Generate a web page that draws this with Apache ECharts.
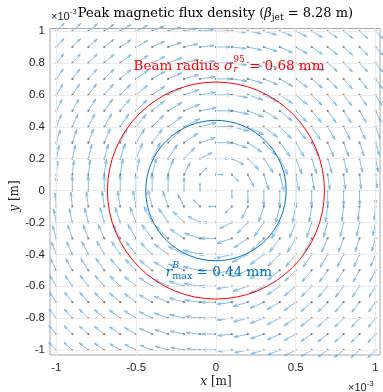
<!DOCTYPE html>
<html><head><meta charset="utf-8">
<script src="https://cdn.jsdelivr.net/npm/echarts@6/dist/echarts.min.js"></script>
<style>html,body{margin:0;padding:0;background:#fff}#c{width:383px;height:392px}</style>
</head><body><div id="c"></div>
<script>
// ---- data (units of 1e-3 m) ----
const gridX = [-1.0,-0.9,-0.8,-0.7,-0.6,-0.5,-0.4,-0.3,-0.2,-0.1,0,0.1,0.2,0.3,0.4,0.5,0.6,0.7,0.8,0.9,1.0];
const gridY = [-1.0,-0.9,-0.8,-0.7,-0.6,-0.5,-0.4,-0.3,-0.2,-0.1,0,0.1,0.2,0.3,0.4,0.5,0.6,0.7,0.8,0.9,1.0];
const xTicks = [-1,-0.5,0,0.5,1];
const yTicks = [-1,-0.8,-0.6,-0.4,-0.2,0,0.2,0.4,0.6,0.8,1];
const beamRadius95 = 0.68;   // sigma_r^95 [mm]
const rMaxB = 0.44;          // r_max^B [mm]
const circleRadii = [beamRadius95, rMaxB];
const circleColors = ['#ff0000', '#0072bd'];
// arrow length (axis units) vs distance from beam axis
const profileR   = [0, 0.1, 0.2, 0.3, 0.44, 0.6, 0.8, 1.0, 1.2, 1.42];
const profileLen = [0, 0.045, 0.08, 0.10, 0.112, 0.10, 0.093, 0.085, 0.075, 0.068];

function arrowLen(r) {
  for (let i = 1; i < profileR.length; i++) {
    if (r <= profileR[i]) {
      const t = (r - profileR[i - 1]) / (profileR[i] - profileR[i - 1]);
      return profileLen[i - 1] + t * (profileLen[i] - profileLen[i - 1]);
    }
  }
  return profileLen[profileLen.length - 1];
}
const arrows = [];
const dots = [];
gridX.forEach(x => gridY.forEach(y => {
  const r = Math.hypot(x, y);
  const m = arrowLen(r);
  // azimuthal, clockwise
  const u = r === 0 ? 0 : m * y / r;
  const v = r === 0 ? 0 : -m * x / r;
  arrows.push([x, y, u, v]);
  dots.push([x, y]);
}));

const X_MIN = -1.04, X_MAX = 1.028, Y_MIN = -1.031, Y_MAX = 1.016;
const SERIF = '"DejaVu Serif", "Liberation Serif", serif';
const SANS = '"Liberation Sans", Arial, Helvetica, sans-serif';
const ARROW = '#76b5e3';

// ---- text layout helper ----
const mctx = document.createElement('canvas').getContext('2d');
function fontStr(f) { return (f.italic ? 'italic ' : '') + f.size + 'px ' + (f.family || SERIF); }
function tw(t, f) { mctx.font = fontStr(f); return mctx.measureText(t).width; }
function textLine(frags, x, y, color, align) {
  let widths = frags.map(f => f.stack ? Math.max(...f.stack.map(s => tw(s.t, s))) : tw(f.t, f));
  const total = widths.reduce((a, b) => a + b, 0);
  let cx = align === 'center' ? x - total / 2 : x;
  const els = [];
  frags.forEach((f, i) => {
    const list = f.stack ? f.stack : [f];
    list.forEach(s => {
      els.push({ type: 'text', x: cx, y: y + (s.dy || 0), silent: true, z: 100,
        style: { text: s.t, font: fontStr(s), fill: color, align: 'left', verticalAlign: 'middle' } });
    });
    cx += widths[i];
  });
  return els;
}

const graphics = [].concat(
  textLine([{t: '\u00d710', size: 11, family: SANS}, {t: '-3', size: 8, family: SANS, dy: -4.5}], 51, 16.5, '#262626', 'left'),
  textLine([{t: 'Peak magnetic flux density (', size: 13}, {t: '\u03b2', size: 13, italic: true},
            {t: 'jet', size: 9, dy: 3.5}, {t: ' = 8.28 m)', size: 13}], 215.5, 14, '#000', 'center'),
  textLine([{t: 'Beam radius ', size: 13.5}, {t: '\u03c3', size: 13.5, italic: true},
            {stack: [{t: '95', size: 9, dy: -6}, {t: 'r', size: 9.5, italic: true, dy: 4}]},
            {t: ' = 0.68 mm', size: 13.5}], 229, 66, '#ff0000', 'center'),
  textLine([{t: 'r', size: 13.5, italic: true},
            {stack: [{t: 'B', size: 9.5, italic: true, dy: -6}, {t: 'max', size: 9.5, dy: 4.5}]},
            {t: ' = 0.44 mm', size: 13.5}], 219, 272, '#0072bd', 'center'),
  textLine([{t: 'x', size: 12, italic: true}, {t: ' [m]', size: 12}], 216, 382, '#262626', 'center'),
  textLine([{t: '\u00d710', size: 11, family: SANS}, {t: '-3', size: 8, family: SANS, dy: -4.5}], 348, 388, '#262626', 'left')
);
graphics.push({ type: 'group', x: 15, y: 196, rotation: Math.PI / 2, silent: true,
  children: textLine([{t: 'y', size: 12, italic: true}, {t: ' [m]', size: 12}], 0, 0, '#262626', 'center') });

const chart = echarts.init(document.getElementById('c'), null, { renderer: 'canvas' });
const axisCommon = {
  type: 'value', axisLine: { show: false }, splitLine: { show: false },
  axisTick: { show: true, inside: true, length: 3, lineStyle: { color: '#9a9a9a' } }
};
chart.setOption({
  animation: false,
  backgroundColor: '#fff',
  grid: { left: 50, right: 3, top: 28.5, bottom: 37, show: true, borderColor: '#a8a8a8', borderWidth: 1, backgroundColor: 'transparent' },
  xAxis: [
    Object.assign({}, axisCommon, { min: X_MIN, max: X_MAX, position: 'bottom',
      axisTick: Object.assign({}, axisCommon.axisTick, { customValues: xTicks }),
      axisLabel: { customValues: xTicks, formatter: v => String(Math.round(v * 10) / 10), fontSize: 11.5, fontFamily: SANS, color: '#262626', margin: 7 } }),
    Object.assign({}, axisCommon, { min: X_MIN, max: X_MAX, position: 'top',
      axisTick: Object.assign({}, axisCommon.axisTick, { customValues: xTicks }),
      axisLabel: { show: false } })
  ],
  yAxis: [
    Object.assign({}, axisCommon, { min: Y_MIN, max: Y_MAX, position: 'left',
      axisTick: Object.assign({}, axisCommon.axisTick, { customValues: yTicks }),
      axisLabel: { customValues: yTicks, formatter: v => String(Math.round(v * 10) / 10), fontSize: 11.5, fontFamily: SANS, color: '#262626', margin: 5 } }),
    Object.assign({}, axisCommon, { min: Y_MIN, max: Y_MAX, position: 'right',
      axisTick: Object.assign({}, axisCommon.axisTick, { customValues: yTicks }),
      axisLabel: { show: false } })
  ],
  graphic: graphics,
  series: [
    { type: 'line', data: [], silent: true, z: 1,
      markLine: { silent: true, symbol: ['none', 'none'], label: { show: false },
        lineStyle: { color: '#ebebeb', width: 1, type: 'solid' }, animation: false,
        data: xTicks.map(v => ({ xAxis: v })).concat(yTicks.map(v => ({ yAxis: v }))) } },
    { type: 'custom', z: 3, silent: true, data: arrows, encode: { x: 0, y: 1 },
      renderItem: function (params, api) {
        const x = api.value(0), y = api.value(1), u = api.value(2), v = api.value(3);
        const p0 = api.coord([x, y]), p1 = api.coord([x + u, y + v]);
        const dx = p1[0] - p0[0], dy = p1[1] - p0[1];
        const a = 0.3, b = 0.28;
        const h1 = [p1[0] - a * (dx + b * dy), p1[1] - a * (dy - b * dx)];
        const h2 = [p1[0] - a * (dx - b * dy), p1[1] - a * (dy + b * dx)];
        return { type: 'group', children: [
          { type: 'line', shape: { x1: p0[0], y1: p0[1], x2: p1[0], y2: p1[1] }, style: { stroke: ARROW, lineWidth: 0.9 } },
          { type: 'polyline', shape: { points: [h1, p1, h2] }, style: { stroke: ARROW, lineWidth: 0.9, fill: null } }
        ] };
      } },
    { type: 'scatter', z: 4, silent: true, data: dots, symbolSize: 2.2, itemStyle: { color: '#606060' } },
    { type: 'custom', z: 5, silent: true, data: circleRadii.map((r, i) => [0, 0, r, i]), encode: { x: 0, y: 1 },
      renderItem: function (params, api) {
        const c = api.coord([api.value(0), api.value(1)]);
        const rp = api.size([api.value(2), 0])[0];
        return { type: 'circle', shape: { cx: c[0], cy: c[1], r: rp },
          style: { stroke: circleColors[api.value(3)], fill: 'none', lineWidth: 1 } };
      } }
  ]
});
</script></body></html>
